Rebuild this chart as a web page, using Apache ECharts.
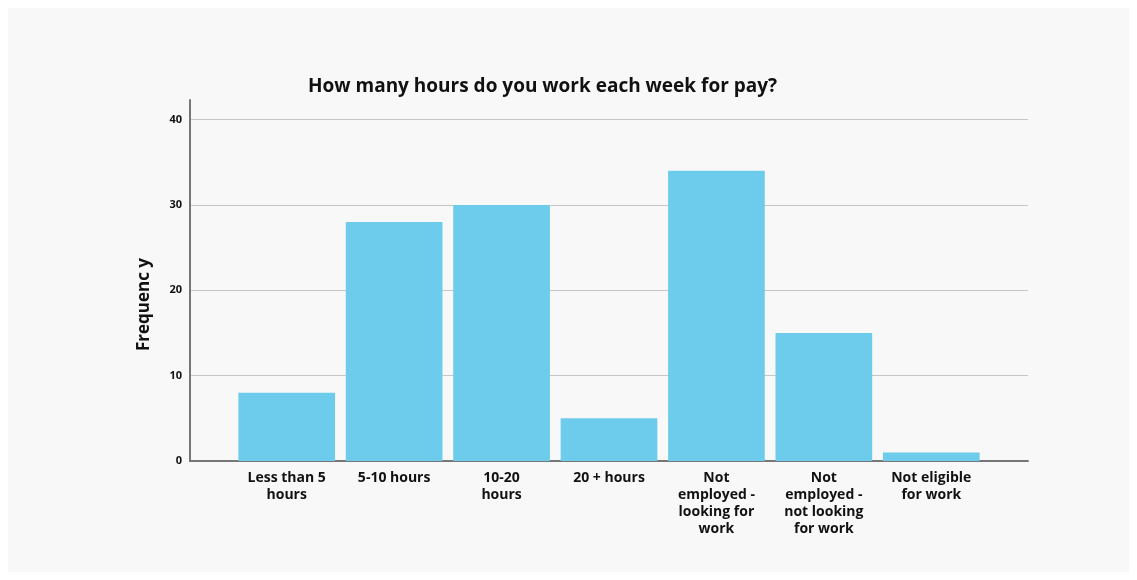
<!DOCTYPE html>
<html>
<head>
<meta charset="utf-8">
<script src="https://cdn.jsdelivr.net/npm/echarts@6/dist/echarts.min.js"></script>
<style>
  html, body { margin: 0; padding: 0; background: #ffffff; }
  #panel { position: absolute; left: 8px; top: 8px; width: 1121px; height: 564px; background: #f8f8f8; }
  #chart { position: absolute; left: 0; top: 0; width: 1137px; height: 580px; }
</style>
</head>
<body>
<div id="panel"></div>
<div id="chart"></div>
<script>
// Survey answers and their counts
const categories = [
  'Less than 5\nhours',
  '5-10 hours',
  '10-20\nhours',
  '20 + hours',
  'Not\nemployed -\nlooking for\nwork',
  'Not\nemployed -\nnot looking\nfor work',
  'Not eligible\nfor work'
];
const frequencies = [8, 28, 30, 5, 34, 15, 1];
const yTicks = [0, 10, 20, 30, 40];

const titleText = 'How many hours do you work each week for pay?';
const yName = 'Frequenc y';

const yMax = 42.3;
const font = '"Open Sans", "Noto Sans", sans-serif';

const chart = echarts.init(document.getElementById('chart'), null, { renderer: 'canvas' });

chart.setOption({
  backgroundColor: 'transparent',
  animation: false,
  title: {
    text: titleText,
    left: 303,
    top: 72,
    textStyle: { fontFamily: font, fontSize: 19, fontWeight: 'bold', color: '#111' }
  },
  grid: [
    // frame grid: axis lines, gridlines and value labels
    { left: 190, right: 109, top: 100, bottom: 119 },
    // bar grid: the category band inset from the frame
    { left: 233, right: 152, top: 100, bottom: 119 }
  ],
  xAxis: [
    {
      type: 'value', gridIndex: 0, min: 0, max: 1,
      axisLine: { show: true, lineStyle: { color: '#777', width: 2 } },
      axisTick: { show: false }, axisLabel: { show: false }, splitLine: { show: false }
    },
    {
      type: 'category', gridIndex: 1, data: categories,
      axisLine: { show: false }, axisTick: { show: false },
      axisLabel: {
        interval: 0, margin: 9,
        fontFamily: font, fontSize: 14, fontWeight: 'bold', color: '#111', lineHeight: 17
      }
    }
  ],
  yAxis: [
    {
      type: 'value', gridIndex: 0, min: yTicks[0], max: yMax, interval: 10,
      name: yName, nameLocation: 'middle', nameGap: 37, nameRotate: 90,
      nameTextStyle: {
        fontFamily: font, fontSize: 17, fontWeight: 'bold', color: '#111',
        padding: [0, 48, 0, 0]
      },
      axisLine: { show: true, lineStyle: { color: '#777', width: 2 } },
      axisTick: { show: false },
      axisLabel: {
        showMaxLabel: false, margin: 8,
        fontFamily: font, fontSize: 11, fontWeight: 'bold', color: '#111'
      },
      splitLine: { show: true, showMinLine: false, showMaxLine: false, lineStyle: { color: '#c6c6c6', width: 1 } }
    },
    {
      type: 'value', gridIndex: 1, min: yTicks[0], max: yMax, interval: 10,
      show: false, splitLine: { show: false }
    }
  ],
  series: [{
    type: 'bar',
    xAxisIndex: 1, yAxisIndex: 1,
    data: frequencies,
    barCategoryGap: '10%',
    itemStyle: { color: '#6dcbeb' },
    z: 1
  }]
});
</script>
</body>
</html>
